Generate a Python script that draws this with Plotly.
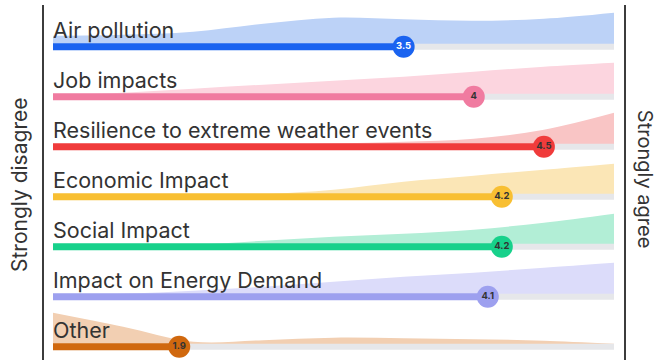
import plotly.graph_objects as go

# ---------------- data ----------------
categories = ["Air pollution", "Job impacts", "Resilience to extreme weather events",
              "Economic Impact", "Social Impact", "Impact on Energy Demand", "Other"]
scores = [3.5, 4.0, 4.5, 4.2, 4.2, 4.1, 1.9]
score_labels = ["3.5", "4", "4.5", "4.2", "4.2", "4.1", "1.9"]

# response distribution (relative density) sampled along the 1..5 scale
scale_points = [1.0, 1.5, 2.0, 2.5, 3.0, 3.5, 4.0, 4.5, 5.0]
dist_air = [11, 12, 15, 23, 29, 27.5, 26, 28, 34]
dist_job = [1, 4, 8, 12, 16, 20, 25, 30, 34]
dist_resilience = [0.5, 1, 1.5, 2, 3.3, 5, 8, 17, 34]
dist_economic = [0, 0, 0.5, 2.5, 7, 15, 21, 27, 33]
dist_social = [0, 0.5, 2, 6, 10, 13, 17, 24, 33]
dist_energy = [1, 3, 6, 10, 15, 20, 24, 29, 34]
dist_other = [34, 20, 5, 6.5, 9, 8.5, 7.5, 6, 3]
distributions = [dist_air, dist_job, dist_resilience, dist_economic,
                 dist_social, dist_energy, dist_other]

# ---------------- styles ----------------
bar_colors = ["#1a63f0", "#f07ba0", "#f03b3b", "#f8bf32", "#17d18b", "#9da0ef", "#d0680e"]
area_colors = ["#bcd2f7", "#fcd5df", "#f9c5c5", "#fbe6b6", "#b2eed6", "#dcdcfa", "#f2cfb2"]
marker_text_colors = ["#ffffff", "#333333", "#333333", "#333333", "#333333", "#333333", "#333333"]
FONT = "Inter"
AREA_SCALE = 1 / 50.0  # density unit -> row units

fig = go.Figure()
n = len(categories)
for i, cat in enumerate(categories):
    yb = n - 1 - i
    dist = distributions[i]
    # baseline for the area fill
    fig.add_trace(go.Scatter(x=scale_points, y=[yb] * len(scale_points), mode="lines",
                             line=dict(width=0, color=area_colors[i]), hoverinfo="skip",
                             showlegend=False))
    fig.add_trace(go.Scatter(x=scale_points, y=[yb + d * AREA_SCALE for d in dist],
                             mode="lines", line=dict(width=0, color=area_colors[i], shape="spline"),
                             fill="tonexty", fillcolor=area_colors[i], hoverinfo="skip",
                             showlegend=False))
    # gray track
    fig.add_trace(go.Scatter(x=[scale_points[0], scale_points[-1]], y=[yb, yb], mode="lines",
                             line=dict(width=6, color="#e6e7ea"), hoverinfo="skip",
                             showlegend=False))
    # coloured bar
    fig.add_trace(go.Scatter(x=[scale_points[0], scores[i]], y=[yb, yb], mode="lines",
                             line=dict(width=7, color=bar_colors[i]), hoverinfo="skip",
                             showlegend=False))
    # marker with value
    fig.add_trace(go.Scatter(x=[scores[i]], y=[yb], mode="markers+text",
                             marker=dict(size=22, color=bar_colors[i], line=dict(width=0)),
                             text=["<b>" + score_labels[i] + "</b>"], textposition="middle center",
                             textfont=dict(size=9.5, color=marker_text_colors[i], family=FONT),
                             hoverinfo="skip", showlegend=False))
    fig.add_annotation(x=scale_points[0], y=yb, xref="x", yref="y", text=cat,
                       showarrow=False, xanchor="left", yanchor="middle", yshift=17,
                       xshift=-2, font=dict(size=21.5, color="#333333", family=FONT))

# side titles
fig.add_annotation(x=-0.0395, y=0.493, xref="paper", yref="paper", text="Strongly disagree",
                   textangle=-90, showarrow=False, xanchor="center", yanchor="middle",
                   font=dict(size=21, color="#333333", family=FONT))
fig.add_annotation(x=1.0345, y=0.51, xref="paper", yref="paper", text="Strongly agree",
                   textangle=90, showarrow=False, xanchor="center", yanchor="middle",
                   font=dict(size=20, color="#333333", family=FONT))

# vertical frame lines
for xp in (0, 1):
    fig.add_shape(type="line", xref="paper", yref="paper", x0=xp, x1=xp, y0=0, y1=1,
                  line=dict(color="#3c3c3c", width=2))

fig.update_layout(
    width=657, height=362,
    margin=dict(l=43, r=32, t=5, b=2),
    paper_bgcolor="white", plot_bgcolor="white",
    xaxis=dict(range=[0.9287, 5.0784], visible=False, fixedrange=True),
    yaxis=dict(range=[-0.266, 6.834], visible=False, fixedrange=True),
    showlegend=False,
)

fig.write_html("out.html")
